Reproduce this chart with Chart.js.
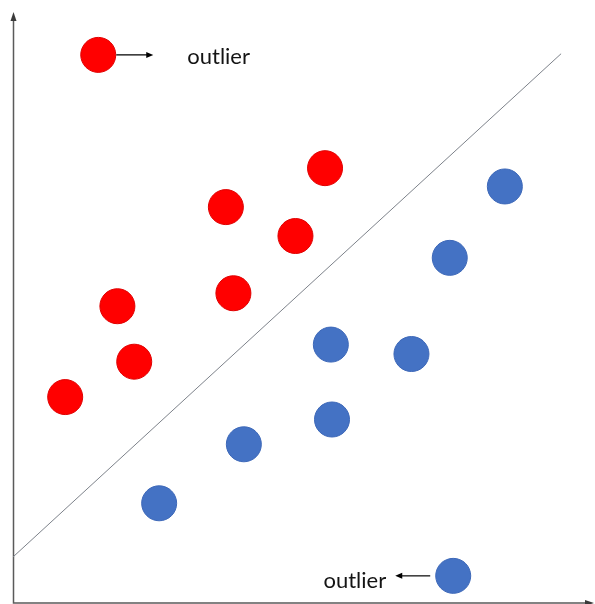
<!DOCTYPE html>
<html>
<head>
<meta charset="utf-8">
<script src="https://cdn.jsdelivr.net/npm/chart.js@4/dist/chart.umd.min.js"></script>
<style>
  html, body { margin: 0; padding: 0; background: #fff; overflow: hidden; }
  #wrap { width: 595px; height: 604px; position: relative; overflow: hidden; }
  canvas { display: block; }
</style>
</head>
<body>
<div id="wrap"><canvas id="chart"></canvas></div>
<script>
// class A (red) points, x / y
const redX = [0.90, 1.80, 2.09, 3.67, 3.80, 4.87, 5.38, 1.47];
const redY = [3.49, 5.03, 4.09, 6.71, 5.25, 6.22, 7.37, 9.29];
// class B (blue) points, x / y
const blueX = [2.52, 3.98, 5.50, 5.48, 6.87, 7.53, 8.48, 7.59];
const blueY = [1.69, 2.69, 3.11, 4.38, 4.22, 5.85, 7.06, 0.46];
// separating line end points
const lineX = [0, 9.45];
const lineY = [0.78, 9.31];
// outlier annotations: which series, which point index, label
const outlierSeries = [0, 1];
const outlierIndex = [7, 7];
const outlierLabels = ['outlier', 'outlier'];

const toPoints = (xs, ys) => xs.map((x, i) => ({ x: x, y: ys[i] }));

function arrow(ctx, x1, y1, x2, y2) {
  const dir = Math.sign(x2 - x1);
  ctx.beginPath();
  ctx.moveTo(x1, y1);
  ctx.lineTo(x2 - dir * 5, y2);
  ctx.stroke();
  ctx.beginPath();
  ctx.moveTo(x2, y2);
  ctx.lineTo(x2 - dir * 7, y2 - 3);
  ctx.lineTo(x2 - dir * 7, y2 + 3);
  ctx.closePath();
  ctx.fill();
}

// draws the two axes with arrow heads and the outlier notes
const extras = {
  id: 'extras',
  beforeDatasetsDraw(chart) {
    const ctx = chart.ctx;
    const { left, top, right, bottom } = chart.chartArea;
    ctx.save();
    ctx.strokeStyle = '#5a5a5a';
    ctx.fillStyle = '#3a3a3a';
    ctx.lineWidth = 1.5;
    ctx.beginPath();
    ctx.moveTo(left + 0.5, top + 4);
    ctx.lineTo(left + 0.5, bottom);
    ctx.lineTo(right - 4, bottom);
    ctx.stroke();
    // y arrow head
    ctx.beginPath();
    ctx.moveTo(left + 0.5, top - 1);
    ctx.lineTo(left - 2.5, top + 8);
    ctx.lineTo(left + 3.5, top + 8);
    ctx.closePath();
    ctx.fill();
    // x arrow head
    ctx.beginPath();
    ctx.moveTo(right + 1, bottom);
    ctx.lineTo(right - 8, bottom - 3);
    ctx.lineTo(right - 8, bottom + 3);
    ctx.closePath();
    ctx.fill();
    ctx.restore();
  },
  afterDatasetsDraw(chart) {
    const ctx = chart.ctx;
    const xs = chart.scales.x, ys = chart.scales.y;
    ctx.save();
    ctx.strokeStyle = '#000';
    ctx.lineWidth = 1.2;
    ctx.font = '22px Lato, "Open Sans", sans-serif';
    ctx.textBaseline = 'middle';
    outlierLabels.forEach((label, k) => {
      const d = chart.data.datasets[outlierSeries[k]].data[outlierIndex[k]];
      const px = xs.getPixelForValue(d.x);
      const py = ys.getPixelForValue(d.y);
      ctx.fillStyle = '#000';
      if (k === 0) {
        arrow(ctx, px + 18, py, px + 55, py);
        ctx.fillStyle = '#141414';
        ctx.textAlign = 'left';
        ctx.fillText(label, px + 89, py + 2);
      } else {
        arrow(ctx, px - 23, py, px - 58, py);
        ctx.fillStyle = '#141414';
        ctx.textAlign = 'right';
        ctx.fillText(label, px - 67, py + 5);
      }
    });
    ctx.restore();
  }
};

new Chart(document.getElementById('chart'), {
  type: 'scatter',
  data: {
    datasets: [
      {
        label: 'A',
        data: toPoints(redX, redY),
        backgroundColor: '#ff0000',
        borderColor: '#e00000',
        borderWidth: 1,
        pointRadius: 17.5
      },
      {
        label: 'B',
        data: toPoints(blueX, blueY),
        backgroundColor: '#4472c4',
        borderColor: '#3d68b8',
        borderWidth: 1,
        pointRadius: 17.5
      },
      {
        label: 'boundary',
        type: 'line',
        data: toPoints(lineX, lineY),
        borderColor: '#7d828a',
        borderWidth: 1,
        pointRadius: 0,
        fill: false,
        tension: 0
      }
    ]
  },
  options: {
    responsive: true,
    maintainAspectRatio: false,
    animation: false,
    events: [],
    layout: { autoPadding: false, padding: { left: 13, top: 13, right: 2, bottom: 1 } },
    scales: {
      x: { type: 'linear', min: 0, max: 10, display: false },
      y: { type: 'linear', min: 0, max: 10, display: false }
    },
    plugins: {
      legend: { display: false },
      tooltip: { enabled: false }
    }
  },
  plugins: [extras]
});
</script>
</body>
</html>
